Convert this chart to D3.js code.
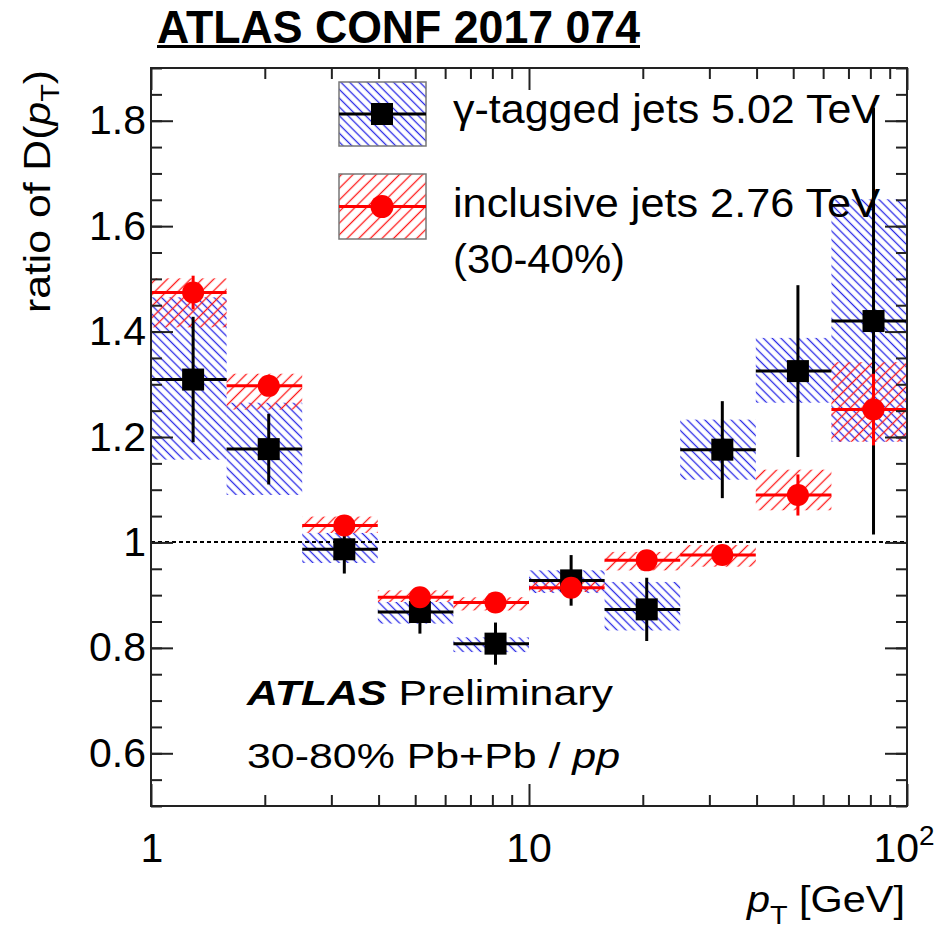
<!DOCTYPE html>
<html><head><meta charset="utf-8">
<script src="https://cdn.jsdelivr.net/npm/d3@7"></script>
<style>
html,body{margin:0;padding:0;background:#fff;}
svg{display:block;font-family:"Liberation Sans",Arial,Helvetica,sans-serif;}
</style></head><body>
<svg id="c" width="938" height="935"></svg>
<script>
// ---- data ----
const binEdges   = [1, 1.585, 2.512, 3.981, 6.310, 10, 15.85, 25.12, 39.81, 63.10, 100];
const gammaVal   = [1.309, 1.177, 0.987, 0.868, 0.808, 0.928, 0.873, 1.176, 1.325, 1.420];
const gammaStat  = [0.119, 0.067, 0.046, 0.041, 0.040, 0.048, 0.060, 0.092, 0.163, 0.405];
const gammaSysUp = [0.156, 0.088, 0.031, 0.019, 0.012, 0.019, 0.052, 0.057, 0.063, 0.231];
const gammaSysDn = [0.152, 0.087, 0.026, 0.022, 0.016, 0.024, 0.040, 0.057, 0.060, 0.229];
const inclVal    = [1.474, 1.297, 1.032, 0.896, 0.886, 0.914, 0.966, 0.976, 1.090, 1.252];
const inclStat   = [0.032, 0.010, 0.008, 0.008, 0.008, 0.008, 0.008, 0.008, 0.039, 0.068];
const inclSysUp  = [0.027, 0.023, 0.017, 0.013, 0.010, 0.011, 0.016, 0.019, 0.048, 0.090];
const inclSysDn  = [0.066, 0.045, 0.014, 0.009, 0.015, 0.008, 0.019, 0.022, 0.029, 0.061];
const yMajorTicks = [0.6, 0.8, 1.0, 1.2, 1.4, 1.6, 1.8];
const yMinorTicks = d3.range(0.5, 1.9001, 0.05).map(v => +v.toFixed(2));
const xMajorTicks = [1, 10, 100];
const xMinorTicks = [2,3,4,5,6,7,8,9,20,30,40,50,60,70,80,90];
const xTickBase   = ["1", "10", "10"];
const xTickSup    = ["", "", "2"];
const legendLabels = ["γ-tagged jets 5.02 TeV", "inclusive jets 2.76 TeV"];

// ---- layout ----
const F = {l:151, r:907, t:68, b:806};
const x = d3.scaleLog().domain([1,100]).range([F.l, F.r]);
const y = d3.scaleLinear().domain([0.5,1.9]).range([F.b, F.t]);
const svg = d3.select("#c");
const defs = svg.append("defs");
function hatch(id, color, spacing, angle, sw){
  const p = defs.append("pattern").attr("id", id).attr("patternUnits","userSpaceOnUse")
    .attr("width", spacing).attr("height", spacing).attr("patternTransform", `rotate(${angle})`);
  p.append("line").attr("x1",0).attr("x2",spacing).attr("y1",spacing/2).attr("y2",spacing/2)
    .attr("stroke", color).attr("stroke-width", sw);
}
hatch("hb", "#2a2ae6", 6.2, 45, 1.3);
hatch("hr", "#ff1a1a", 8.2, -45, 1.3);

const bins = d3.range(gammaVal.length).map(i => ({
  lo: binEdges[i], hi: binEdges[i+1], c: (binEdges[i]+binEdges[i+1])/2,
  g: gammaVal[i], gs: gammaStat[i], gu: gammaSysUp[i], gd: gammaSysDn[i],
  r: inclVal[i], rs: inclStat[i], ru: inclSysUp[i], rd: inclSysDn[i]
}));

// systematic boxes
svg.append("g").selectAll("rect").data(bins).join("rect")
  .attr("x", d => x(d.lo)).attr("width", d => x(d.hi)-x(d.lo))
  .attr("y", d => y(d.g + d.gu)).attr("height", d => y(d.g - d.gd) - y(d.g + d.gu))
  .attr("fill", "url(#hb)");
svg.append("g").selectAll("rect").data(bins).join("rect")
  .attr("x", d => x(d.lo)).attr("width", d => x(d.hi)-x(d.lo))
  .attr("y", d => y(d.r + d.ru)).attr("height", d => y(d.r - d.rd) - y(d.r + d.ru))
  .attr("fill", "url(#hr)");

// dashed unity line
svg.append("line").attr("x1", x(1)).attr("x2", x(100)).attr("y1", Math.round(y(1))).attr("y2", Math.round(y(1)))
  .attr("stroke", "#000").attr("stroke-width", 2.2).attr("stroke-dasharray", "4,3");

// gamma-tagged points
const gG = svg.append("g").attr("stroke", "#000").attr("stroke-width", 3);
gG.selectAll("line.h").data(bins).join("line").attr("class","h")
  .attr("x1", d => x(d.lo)).attr("x2", d => x(d.hi)).attr("y1", d => y(d.g)).attr("y2", d => y(d.g));
gG.selectAll("line.v").data(bins).join("line").attr("class","v")
  .attr("x1", d => x(d.c)).attr("x2", d => x(d.c)).attr("y1", d => y(d.g - d.gs)).attr("y2", d => y(d.g + d.gs));
svg.append("g").selectAll("rect").data(bins).join("rect")
  .attr("x", d => x(d.c) - 11).attr("y", d => y(d.g) - 11).attr("width", 22).attr("height", 22).attr("fill", "#000");

// inclusive points
const rG = svg.append("g").attr("stroke", "#ff0000").attr("stroke-width", 3);
rG.selectAll("line.h").data(bins).join("line").attr("class","h")
  .attr("x1", d => x(d.lo)).attr("x2", d => x(d.hi)).attr("y1", d => y(d.r)).attr("y2", d => y(d.r));
rG.selectAll("line.v").data(bins).join("line").attr("class","v")
  .attr("x1", d => x(d.c)).attr("x2", d => x(d.c)).attr("y1", d => y(d.r - d.rs)).attr("y2", d => y(d.r + d.rs));
svg.append("g").selectAll("circle").data(bins).join("circle")
  .attr("cx", d => x(d.c)).attr("cy", d => y(d.r)).attr("r", 11).attr("fill", "#ff0000");

// frame
svg.append("rect").attr("x", F.l).attr("y", F.t).attr("width", F.r-F.l).attr("height", F.b-F.t)
  .attr("fill", "none").attr("stroke", "#222").attr("stroke-width", 2);

// axes ticks
function style(g){ g.select(".domain").remove(); g.selectAll("line").attr("stroke","#222").attr("stroke-width",2); }
const yfmt = v => String(+v.toFixed(1));
svg.append("g").attr("transform", `translate(${F.l},0)`)
  .call(d3.axisLeft(y).tickValues(yMajorTicks).tickSize(-22).tickPadding(5).tickFormat(yfmt))
  .call(style).call(g => g.selectAll("text").attr("font-size", 41).attr("fill","#000")
     .attr("font-family", '"Liberation Sans",Arial,sans-serif'));
svg.append("g").attr("transform", `translate(${F.l},0)`)
  .call(d3.axisLeft(y).tickValues(yMinorTicks).tickSize(-11).tickFormat(""))
  .call(style);
svg.append("g").attr("transform", `translate(${F.r},0)`)
  .call(d3.axisRight(y).tickValues(yMajorTicks).tickSize(-22).tickFormat("")).call(style);
svg.append("g").attr("transform", `translate(${F.r},0)`)
  .call(d3.axisRight(y).tickValues(yMinorTicks).tickSize(-11).tickFormat("")).call(style);
[[d3.axisBottom, F.b],[d3.axisTop, F.t]].forEach(([ax, pos]) => {
  svg.append("g").attr("transform", `translate(0,${pos})`)
    .call(ax(x).tickValues(xMajorTicks).tickSize(-22).tickFormat("")).call(style);
  svg.append("g").attr("transform", `translate(0,${pos})`)
    .call(ax(x).tickValues(xMinorTicks).tickSize(-11).tickFormat("")).call(style);
});

// x tick labels
xMajorTicks.forEach((v, i) => {
  const t = svg.append("text").attr("x", x(v) + (i===0 ? 1 : (i===2 ? -3 : 0))).attr("y", 862)
    .attr("text-anchor", "middle").attr("font-size", 41).text(xTickBase[i]);
  if (xTickSup[i]) t.append("tspan").attr("dy", -17).attr("font-size", 28).text(xTickSup[i]);
});

// y axis title
const yt = svg.append("text").attr("transform", "translate(50,313) rotate(-90)")
  .attr("font-size", 37).attr("textLength", 243).attr("lengthAdjust", "spacingAndGlyphs");
yt.append("tspan").text("ratio of D(");
yt.append("tspan").attr("font-style", "italic").text("p");
yt.append("tspan").attr("font-size", 25).attr("dy", 9).text("T");
yt.append("tspan").attr("dy", -9).text(")");

// x axis title
const xt = svg.append("text").attr("x", 747).attr("y", 912)
  .attr("font-size", 36).attr("textLength", 158).attr("lengthAdjust", "spacingAndGlyphs");
xt.append("tspan").attr("font-style", "italic").text("p");
xt.append("tspan").attr("font-size", 25).attr("dy", 12).text("T");
xt.append("tspan").attr("dy", -12).text(" [GeV]");

// title
svg.append("text").attr("x", 157).attr("y", 43).attr("font-size", 46)
  .attr("font-weight", "bold").attr("textLength", 483).attr("lengthAdjust", "spacingAndGlyphs")
  .text("ATLAS CONF 2017 074");
svg.append("line").attr("x1", 157).attr("x2", 640).attr("y1", 46.5).attr("y2", 46.5)
  .attr("stroke", "#000").attr("stroke-width", 3);

// legend
const leg = [
  {y0: 82, y1: 146, fill: "url(#hb)", col: "#000", mk: "sq", ty: 123, len: 427},
  {y0: 174, y1: 239, fill: "url(#hr)", col: "#ff0000", mk: "ci", ty: 217, len: 427}
];
leg.forEach((L, i) => {
  svg.append("rect").attr("x", 339).attr("y", L.y0).attr("width", 87).attr("height", L.y1-L.y0)
    .attr("fill", L.fill).attr("stroke", "#777").attr("stroke-width", 1.5);
  const cy = (L.y0 + L.y1)/2;
  svg.append("line").attr("x1", 339).attr("x2", 426).attr("y1", cy).attr("y2", cy)
    .attr("stroke", L.col).attr("stroke-width", 3);
  if (L.mk === "sq") svg.append("rect").attr("x", 382-11).attr("y", cy-11).attr("width", 22).attr("height", 22).attr("fill", "#000");
  else svg.append("circle").attr("cx", 382).attr("cy", cy).attr("r", 11.5).attr("fill", "#ff0000");
  svg.append("text").attr("x", 453).attr("y", L.ty).attr("font-size", 41)
    .attr("textLength", L.len).attr("lengthAdjust", "spacingAndGlyphs").text(legendLabels[i]);
});
svg.append("text").attr("x", 453).attr("y", 273).attr("font-size", 41)
  .attr("textLength", 172).attr("lengthAdjust", "spacingAndGlyphs").text("(30-40%)");

// ATLAS label
const al = svg.append("text").attr("x", 247).attr("y", 705).attr("font-size", 35)
  .attr("textLength", 366).attr("lengthAdjust", "spacingAndGlyphs");
al.append("tspan").attr("font-weight", "bold").attr("font-style", "italic").text("ATLAS");
al.append("tspan").text(" Preliminary");
const sl = svg.append("text").attr("x", 247).attr("y", 768).attr("font-size", 35)
  .attr("textLength", 373).attr("lengthAdjust", "spacingAndGlyphs");
sl.append("tspan").text("30-80% Pb+Pb / ");
sl.append("tspan").attr("font-style", "italic").text("pp");
</script>
</body></html>
